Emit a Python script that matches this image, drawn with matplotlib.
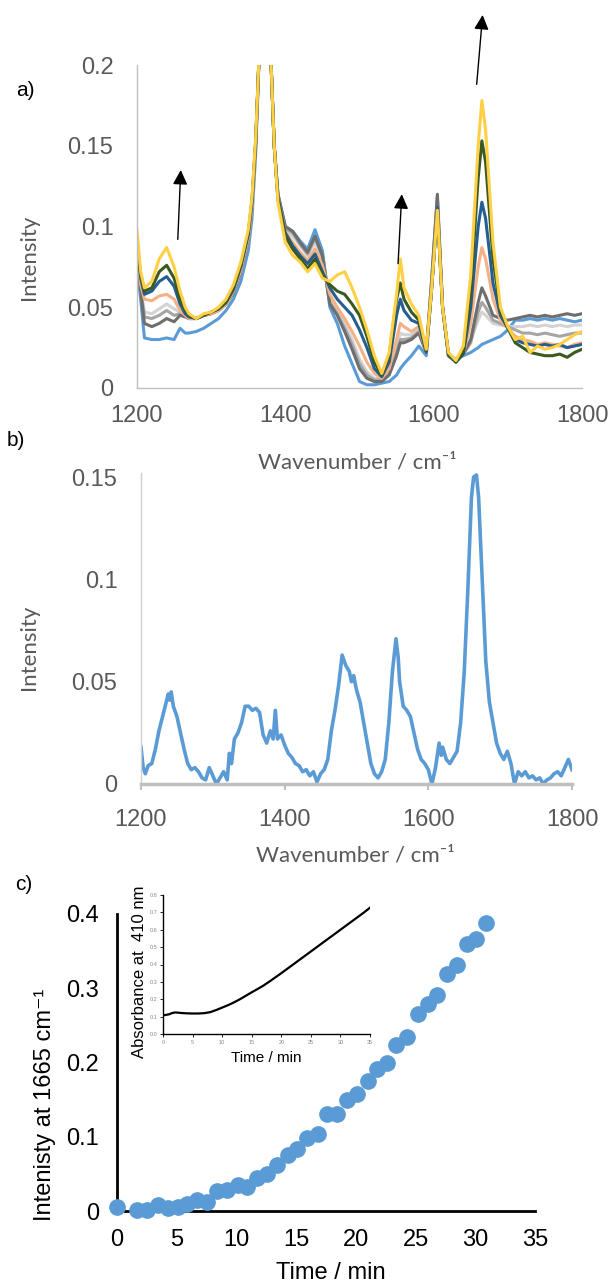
import matplotlib
matplotlib.use("Agg")
import matplotlib.pyplot as plt

plt.rcParams['font.family'] = ['Liberation Sans', 'DejaVu Sans']

# ---- panel a: spectra over time ----
wn_a = [1200, 1205, 1210, 1220, 1230, 1240, 1250, 1258, 1265, 1270,
        1280, 1290, 1300, 1310, 1320, 1330, 1340, 1350, 1355, 1360,
        1365, 1372, 1380, 1385, 1390, 1400, 1410, 1420, 1430, 1440,
        1450, 1460, 1470, 1480, 1490, 1500, 1510, 1520, 1530, 1540,
        1550, 1555, 1560, 1570, 1580, 1590, 1597, 1605, 1612, 1620,
        1630, 1640, 1650, 1660, 1665, 1670, 1680, 1690, 1700, 1710,
        1720, 1730, 1740, 1750, 1760, 1770, 1780, 1790, 1800]

blue = [.073, .055, .031, .030, .030, .031, .030, .037, .034, .034,
        .035, .037, .040, .043, .048, .055, .066, .085, .105, .145,
        .21, .32, .21, .15, .12, .100, .097, .091, .086, .098,
        .085, .050, .040, .026, .015, .004, .002, .002, .003, .004,
        .008, .012, .015, .020, .026, .020, .06, .110, .05, .020,
        .018, .020, .022, .025, .027, .028, .030, .032, .036, .042,
        .042, .043, .042, .043, .042, .043, .042, .041, .042]
light_gray = [.079, .062, .047, .046, .049, .052, .049, .047, .045, .043,
              .043, .045, .046, .048, .052, .059, .072, .092, .112, .150,
              .21, .32, .21, .15, .12, .098, .094, .088, .082, .090,
              .079, .055, .048, .040, .030, .018, .010, .006, .006, .010,
              .024, .034, .033, .033, .036, .022, .065, .118, .05, .020,
              .017, .021, .030, .042, .047, .045, .040, .039, .038, .038,
              .038, .039, .038, .039, .038, .039, .038, .039, .039]
mid_gray = [.078, .061, .044, .043, .045, .048, .045, .046, .045, .043,
            .043, .045, .046, .048, .052, .059, .072, .092, .112, .150,
            .21, .32, .21, .15, .12, .099, .096, .089, .083, .093,
            .081, .053, .046, .037, .027, .015, .008, .005, .005, .009,
            .022, .030, .030, .031, .035, .022, .065, .118, .05, .020,
            .017, .021, .028, .047, .053, .050, .042, .040, .038, .036,
            .034, .034, .033, .034, .033, .032, .033, .034, .034]
dark_gray = [.077, .060, .040, .038, .040, .043, .041, .045, .044, .043,
             .043, .045, .046, .048, .052, .059, .072, .092, .112, .150,
             .21, .32, .21, .15, .12, .100, .097, .090, .084, .094,
             .082, .052, .045, .035, .024, .012, .006, .004, .004, .008,
             .020, .028, .028, .030, .034, .022, .065, .120, .05, .020,
             .017, .021, .030, .053, .062, .057, .045, .043, .042, .043,
             .044, .045, .044, .045, .044, .045, .046, .045, .046]
salmon = [.082, .064, .055, .054, .057, .058, .055, .048, .045, .043,
          .043, .045, .046, .048, .052, .060, .073, .093, .113, .150,
          .21, .32, .21, .15, .118, .097, .090, .084, .079, .086,
          .076, .058, .050, .043, .035, .026, .016, .009, .006, .012,
          .030, .040, .038, .035, .038, .022, .06, .112, .05, .020,
          .017, .021, .040, .075, .087, .080, .055, .042, .037, .032,
          .030, .029, .027, .028, .027, .026, .025, .027, .028]
dark_blue = [.085, .068, .058, .060, .066, .069, .063, .052, .046, .044,
             .043, .045, .047, .049, .053, .061, .075, .095, .115, .152,
             .21, .32, .21, .15, .118, .096, .088, .082, .077, .083,
             .072, .062, .055, .050, .045, .036, .025, .012, .007, .016,
             .045, .055, .048, .042, .040, .022, .06, .112, .05, .020,
             .016, .021, .050, .100, .115, .105, .065, .045, .037, .030,
             .028, .027, .026, .027, .026, .027, .025, .026, .027]
green = [.090, .070, .060, .062, .072, .076, .068, .055, .048, .045,
         .043, .045, .047, .049, .053, .062, .076, .096, .116, .153,
         .21, .32, .21, .15, .117, .094, .086, .080, .074, .080,
         .070, .064, .060, .058, .052, .045, .032, .016, .008, .020,
         .055, .065, .055, .047, .042, .023, .06, .110, .05, .021,
         .016, .022, .060, .130, .153, .140, .080, .048, .037, .028,
         .025, .022, .021, .020, .020, .021, .019, .022, .024]
yellow = [.098, .072, .062, .066, .080, .087, .075, .060, .050, .046,
          .043, .046, .047, .050, .055, .064, .078, .098, .118, .155,
          .21, .32, .21, .15, .115, .090, .082, .078, .072, .077,
          .068, .066, .070, .072, .062, .050, .036, .020, .009, .022,
          .058, .080, .062, .052, .045, .024, .06, .110, .05, .022,
          .017, .026, .070, .150, .178, .160, .090, .050, .038, .030,
          .032, .022, .026, .024, .025, .027, .030, .033, .035]

series_a = [blue, light_gray, mid_gray, dark_gray, salmon, dark_blue, green, yellow]
colors_a = ['#5B9BD5', '#D3D3D3', '#A5A5A5', '#6E6E6E', '#F4B183',
            '#255E91', '#3A5A22', '#FFD043']

# ---- panel b: difference spectrum ----
wn_b = [1200, 1203, 1206, 1210, 1215, 1220, 1225, 1230, 1235, 1238,
        1240, 1242, 1245, 1250, 1255, 1260, 1265, 1270, 1275, 1280,
        1285, 1290, 1295, 1300, 1305, 1310, 1315, 1320, 1323, 1326,
        1330, 1335, 1340, 1345, 1350, 1355, 1360, 1365, 1370, 1375,
        1380, 1384, 1387, 1390, 1395, 1400, 1405, 1410, 1415, 1420,
        1425, 1430, 1435, 1440, 1445, 1450, 1455, 1460, 1465, 1470,
        1475, 1480, 1485, 1490, 1493, 1496, 1500, 1505, 1510, 1515,
        1520, 1525, 1530, 1535, 1540, 1545, 1550, 1555, 1558, 1560,
        1565, 1570, 1575, 1580, 1585, 1590, 1595, 1600, 1605, 1610,
        1615, 1618, 1620, 1625, 1630, 1635, 1640, 1645, 1650, 1655,
        1660, 1663, 1667, 1670, 1675, 1680, 1685, 1690, 1695, 1700,
        1705, 1710, 1715, 1720, 1725, 1730, 1735, 1740, 1745, 1750,
        1755, 1760, 1765, 1770, 1775, 1780, 1785, 1790, 1795, 1800]
diff_b = [.018, .008, .005, .009, .010, .017, .026, .033, .040, .044,
          .041, .045, .038, .033, .025, .017, .010, .007, .008, .006,
          .003, .002, .008, .004, .000, .003, .006, .002, .015, .010,
          .022, .025, .030, .038, .038, .036, .037, .035, .024, .020,
          .026, .022, .036, .022, .024, .019, .015, .013, .010, .009,
          .006, .007, .004, .006, .001, .005, .007, .012, .026, .036,
          .048, .063, .058, .055, .050, .053, .046, .040, .030, .020,
          .010, .005, .003, .006, .012, .030, .055, .071, .062, .050,
          .038, .036, .033, .025, .017, .012, .010, .007, .000, .008,
          .020, .014, .018, .012, .010, .013, .016, .030, .055, .095,
          .140, .150, .151, .140, .100, .060, .040, .030, .020, .015,
          .012, .016, .010, .000, .006, .004, .006, .003, .004, .002,
          .003, .000, .002, .003, .005, .006, .004, .008, .012, .007]

# ---- panel c: kinetics ----
time_c = [0, 1.7, 2.55, 3.45, 4.25, 5.1, 5.9, 6.7, 7.55, 8.4, 9.25, 10.1, 10.9,
          11.7, 12.6, 13.4, 14.3, 15.1, 15.9, 16.8, 17.6, 18.4, 19.3, 20.1,
          21.0, 21.8, 22.6, 23.4, 24.3, 25.2, 26.0, 26.8, 27.6, 28.5, 29.3,
          30.1, 30.9]
int_c = [.006, .002, .001, .008, .004, .006, .010, .015, .012, .027, .028, .035,
         .032, .044, .050, .062, .076, .083, .098, .104, .130, .130, .150, .158,
         .175, .191, .199, .223, .235, .265, .279, .291, .319, .331, .360, .366,
         .388]

time_in = [0, 0.5, 1, 1.5, 2, 2.5, 3, 4, 5, 6, 7, 8, 9, 10, 11, 12, 13, 14, 15,
           16, 17, 18, 19, 20, 21, 22, 23, 24, 25, 26, 27, 28, 29, 30, 31, 32,
           33, 34, 35]
abs_in = [.107, .110, .113, .120, .124, .123, .121, .119, .118, .118, .120, .126,
          .138, .152, .166, .182, .200, .220, .240, .259, .279, .302, .326, .350,
          .375, .400, .425, .450, .475, .500, .525, .550, .575, .600, .625, .650,
          .675, .700, .727]

W, H = 612, 1285
fig = plt.figure(figsize=(W / 100, H / 100), dpi=100)


def box(x0, y0, x1, y1):
    # pixel box (top-left origin) -> figure fraction rect
    return [x0 / W, 1 - y1 / H, (x1 - x0) / W, (y1 - y0) / H]


def ftext(x, y, s, **kw):
    fig.text(x / W, 1 - y / H, s, ha='center', va='center', **kw)


GRAY_TXT = '#595959'
LABEL_FONT = ['Lato', 'DejaVu Sans']

# a)
ax_a = fig.add_axes(box(137, 65, 582, 388))
for vals, col in zip(series_a, colors_a):
    ax_a.plot(wn_a, vals, color=col, lw=2.2)
ax_a.set_xlim(1200, 1800)
ax_a.set_ylim(0, 0.2)
ax_a.set_xticks([1200, 1400, 1600, 1800])
ax_a.set_yticks([0, 0.05, 0.1, 0.15, 0.2])
ax_a.set_yticklabels(['0', '0.05', '0.1', '0.15', '0.2'])
ax_a.tick_params(length=0, labelsize=17, labelcolor=GRAY_TXT)
ax_a.tick_params(axis='y', pad=17)
ax_a.tick_params(axis='x', pad=12)
for s in ['top', 'right']:
    ax_a.spines[s].set_visible(False)
for s in ['left', 'bottom']:
    ax_a.spines[s].set_color('#BFBFBF')
    ax_a.spines[s].set_linewidth(1.0)
arrow_kw = dict(arrowstyle='-|>', mutation_scale=22, color='black', lw=1.0,
                shrinkA=0, shrinkB=0)
for tail, tip in [((1255, 0.092), (1259, 0.135)),
                  ((1552, 0.077), (1557, 0.120)),
                  ((1658, 0.188), (1666, 0.231))]:
    ax_a.annotate('', xy=tip, xytext=tail, arrowprops=arrow_kw,
                  annotation_clip=False)

ftext(25, 90, 'a)', fontsize=15)
ftext(29, 257, 'Intensity', fontsize=16, color=GRAY_TXT, rotation=90,
      family=LABEL_FONT)
ftext(357, 462, 'Wavenumber / cm\u207b\u00b9', fontsize=16, color=GRAY_TXT,
      family=LABEL_FONT)

# b)
ax_b = fig.add_axes(box(141, 473, 572, 784))
ax_b.plot(wn_b, diff_b, color='#5B9BD5', lw=2.6)
ax_b.set_xlim(1200, 1800)
ax_b.set_ylim(0, 0.152)
ax_b.set_xticks([1200, 1400, 1600, 1800])
ax_b.set_yticks([0, 0.05, 0.1, 0.15])
ax_b.set_yticklabels(['0', '0.05', '0.1', '0.15'])
ax_b.tick_params(labelsize=17, labelcolor=GRAY_TXT)
ax_b.tick_params(axis='y', length=0, pad=17)
ax_b.tick_params(axis='x', length=4, width=1.5, color='#BFBFBF', pad=14)
for s in ['top', 'right']:
    ax_b.spines[s].set_visible(False)
ax_b.spines['left'].set_color('#D0D0D0')
ax_b.spines['left'].set_linewidth(1.0)
ax_b.spines['bottom'].set_color('#BFBFBF')
ax_b.spines['bottom'].set_linewidth(2.5)

ftext(16, 440, 'b)', fontsize=15)
ftext(29, 647, 'Intensity', fontsize=16, color=GRAY_TXT, rotation=90,
      family=LABEL_FONT)
ftext(355, 856, 'Wavenumber / cm\u207b\u00b9', fontsize=16, color=GRAY_TXT,
      family=LABEL_FONT)

# c)
ax_c = fig.add_axes(box(117, 914, 535, 1211))
ax_c.plot(time_c, int_c, 'o', color='#5B9BD5', ms=11, clip_on=False, zorder=3)
ax_c.set_xlim(0, 35)
ax_c.set_ylim(0, 0.4)
ax_c.set_xticks(range(0, 36, 5))
ax_c.set_yticks([0, 0.1, 0.2, 0.3, 0.4])
ax_c.set_yticklabels(['0', '0.1', '0.2', '0.3', '0.4'])
ax_c.tick_params(length=0, labelsize=17, labelcolor='black')
ax_c.tick_params(axis='y', pad=13)
ax_c.tick_params(axis='x', pad=13)
for s in ['top', 'right']:
    ax_c.spines[s].set_visible(False)
for s in ['left', 'bottom']:
    ax_c.spines[s].set_linewidth(2.0)

ftext(24, 885, 'c)', fontsize=15)
ftext(45, 1105, 'Intenisty at 1665 cm\u207b\u00b9', fontsize=17, rotation=90)
ftext(331, 1273, 'Time / min', fontsize=17)

# inset
ax_in = fig.add_axes(box(163, 895, 370, 1034))
ax_in.plot(time_in, abs_in, color='black', lw=1.6)
ax_in.set_xlim(0, 35)
ax_in.set_ylim(0, 0.8)
ax_in.set_xticks(range(0, 36, 5))
ax_in.set_yticks([i / 10 for i in range(9)])
ax_in.set_yticklabels([f'{i / 10:.1f}' for i in range(9)])
ax_in.tick_params(length=2, width=0.6, labelsize=4, labelcolor='#888888', pad=2)
for s in ['top', 'right']:
    ax_in.spines[s].set_visible(False)
for s in ['left', 'bottom']:
    ax_in.spines[s].set_linewidth(1.0)
ax_in.set_xlabel('Time / min', fontsize=11, labelpad=5)
ftext(139, 972, 'Absorbance at  410 nm', fontsize=12, rotation=90)

fig.savefig('out.png', dpi=100)
